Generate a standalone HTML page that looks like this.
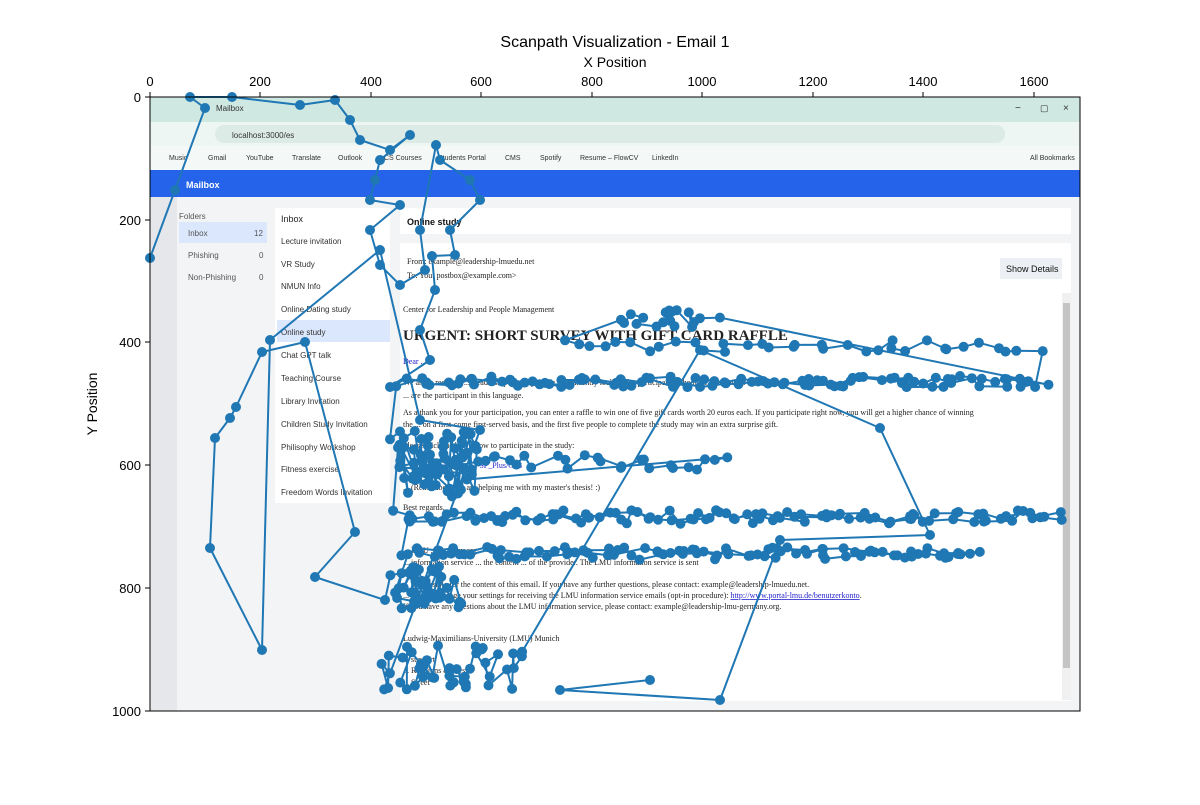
<!DOCTYPE html>
<html><head><meta charset="utf-8"><style>
body{margin:0;background:#fff;width:1200px;height:800px;overflow:hidden;font-family:"Liberation Sans",sans-serif}
</style></head><body>
<svg id="s" width="1200" height="800" viewBox="0 0 1200 800" xmlns="http://www.w3.org/2000/svg" font-family="Liberation Sans, sans-serif">
<rect width="1200" height="800" fill="#fff"/>
<text x="615" y="47" font-size="16" text-anchor="middle">Scanpath Visualization - Email 1</text>
<text x="615" y="67" font-size="14" text-anchor="middle">X Position</text>
<text x="97" y="404" font-size="14" text-anchor="middle" transform="rotate(-90 97 404)">Y Position</text>
<rect x="150" y="97" width="930" height="614" fill="#f3f4f6"/>
<rect x="150" y="97" width="930" height="25" fill="#cfe8e2"/>
<rect x="150" y="122" width="930" height="24" fill="#eef6f3"/>
<rect x="215" y="125" width="790" height="18" rx="9" fill="#dcebe6"/>
<rect x="150" y="146" width="930" height="24" fill="#f4f8f7"/>
<text x="216" y="111" font-size="8" fill="#333">Mailbox</text>
<text x="232" y="138" font-size="8" fill="#333">localhost:3000/es</text>
<g font-size="7" fill="#333"><text x="169" y="160">Music</text><text x="208" y="160">Gmail</text><text x="246" y="160">YouTube</text><text x="292" y="160">Translate</text><text x="338" y="160">Outlook</text><text x="384" y="160">CS Courses</text><text x="438" y="160">Students Portal</text><text x="505" y="160">CMS</text><text x="540" y="160">Spotify</text><text x="580" y="160">Resume – FlowCV</text><text x="652" y="160">LinkedIn</text><text x="1030" y="160">All Bookmarks</text></g>
<text x="1015" y="111" font-size="10" fill="#333">−</text><text x="1040" y="111" font-size="9" fill="#333">▢</text><text x="1063" y="111" font-size="10" fill="#333">×</text>
<rect x="150" y="170" width="930" height="27" fill="#2563eb"/>
<text x="186" y="188" font-size="9" font-weight="bold" fill="#fff">Mailbox</text>
<rect x="150" y="197" width="27" height="514" fill="#e5e7eb"/>
<rect x="177" y="197" width="98" height="514" fill="#f3f4f6"/>
<text x="179" y="219" font-size="8" fill="#555">Folders</text>
<rect x="179" y="222" width="88" height="21" fill="#dbe7fd"/>
<g font-size="8" fill="#555"><text x="188" y="236">Inbox</text><text x="254" y="236">12</text><text x="188" y="258">Phishing</text><text x="259" y="258">0</text><text x="188" y="280">Non-Phishing</text><text x="259" y="280">0</text></g>
<rect x="275" y="208" width="115" height="295" fill="#fff"/>
<rect x="277" y="320" width="113" height="22" fill="#dbe7fd"/>
<text x="281" y="222" font-size="9" fill="#222">Inbox</text>
<g font-size="8" fill="#333"><text x="281" y="244">Lecture invitation</text><text x="281" y="267">VR Study</text><text x="281" y="289">NMUN Info</text><text x="281" y="312">Online Dating study</text><text x="281" y="335">Online study</text><text x="281" y="358">Chat GPT talk</text><text x="281" y="381">Teaching Course</text><text x="281" y="404">Library Invitation</text><text x="281" y="427">Children Study Invitation</text><text x="281" y="450">Philisophy Workshop</text><text x="281" y="472">Fitness exercise</text><text x="281" y="495">Freedom Words Invitation</text></g>
<rect x="400" y="208" width="671" height="26" fill="#fff"/>
<text x="407" y="225" font-size="9" font-weight="bold" fill="#111">Online study</text>
<rect x="400" y="243" width="671" height="458" fill="#fff"/>
<rect x="1000" y="258" width="62" height="21" fill="#eceff3"/>
<text x="1006" y="272" font-size="9" fill="#111">Show Details</text>
<rect x="1062" y="293" width="9" height="407" fill="#f0f0f0"/><rect x="1063" y="303" width="7" height="365" fill="#c4c4c4"/>
<g font-family="Liberation Serif, serif" font-size="8" fill="#222">
<text x="407" y="264">From: example@leadership-lmuedu.net</text><text x="407" y="278">To: You: postbox@example.com&gt;</text>
<text x="403" y="312">Center for Leadership and People Management</text>
<text x="403" y="340" font-size="15" font-weight="bold">URGENT: SHORT SURVEY WITH GIFT CARD RAFFLE</text>
<text x="403" y="364" fill="#22c">Dear ...</text>
<text x="403" y="385">We are ... research ... Leadership ... study ... We are currently looking for participants who have lived under</text>
<text x="403" y="398">... are the participant in this language.</text>
<text x="403" y="415">As a thank you for your participation, you can enter a raffle to win one of five gift cards worth 20 euros each. If you participate right now, you will get a higher chance of winning</text>
<text x="403" y="427">the ... on a first-come first-served basis, and the first five people to complete the study may win an extra surprise gift.</text>
<text x="403" y="448">Please click the link below to participate in the study:</text>
<text x="425" y="468" fill="#22c">https://...Team_PSP_Plus/G68</text>
<text x="403" y="490">... (Remember, you are helping me with my master's thesis! :)</text>
<text x="403" y="510">Best regards,</text>
<text x="403" y="553">... LMU ...germany.org</text>
<text x="403" y="565">... information service ... the content ... of the provider. The LMU information service is sent</text>
<text x="403" y="587">... responsible for the content of this email. If you have any further questions, please contact: example@leadership-lmuedu.net.</text>
<text x="403" y="598">... you can change your settings for receiving the LMU information service emails (opt-in procedure): <tspan fill="#22c" text-decoration="underline">http://www.portal-lmu.de/benutzerkonto</tspan>.</text>
<text x="403" y="609">If you have any questions about the LMU information service, please contact: example@leadership-lmu-germany.org.</text>
<text x="403" y="641">Ludwig-Maximilians-University (LMU) Munich</text>
<text x="403" y="662">... support</text><text x="403" y="673">... Relations &amp; Press</text><text x="403" y="685">... Street</text>
</g>
<g id="sp" stroke="#1f77b4" fill="#1f77b4"></g>
<rect x="150" y="97" width="930" height="614" fill="none" stroke="#000" stroke-width="1"/>
<g font-size="13" fill="#000" text-anchor="middle" stroke="#000">
<g stroke-width="1"><line x1="150" y1="97" x2="150" y2="92"/><line x1="260" y1="97" x2="260" y2="92"/><line x1="371" y1="97" x2="371" y2="92"/><line x1="481" y1="97" x2="481" y2="92"/><line x1="592" y1="97" x2="592" y2="92"/><line x1="702" y1="97" x2="702" y2="92"/><line x1="813" y1="97" x2="813" y2="92"/><line x1="923" y1="97" x2="923" y2="92"/><line x1="1034" y1="97" x2="1034" y2="92"/>
<line x1="150" y1="97" x2="145" y2="97"/><line x1="150" y1="220" x2="145" y2="220"/><line x1="150" y1="342" x2="145" y2="342"/><line x1="150" y1="465" x2="145" y2="465"/><line x1="150" y1="588" x2="145" y2="588"/><line x1="150" y1="711" x2="145" y2="711"/></g>
<g stroke="none"><text x="150" y="86">0</text><text x="260" y="86">200</text><text x="371" y="86">400</text><text x="481" y="86">600</text><text x="592" y="86">800</text><text x="702" y="86">1000</text><text x="813" y="86">1200</text><text x="923" y="86">1400</text><text x="1034" y="86">1600</text></g>
<g stroke="none" text-anchor="end"><text x="141" y="102">0</text><text x="141" y="225">200</text><text x="141" y="347">400</text><text x="141" y="470">600</text><text x="141" y="593">800</text><text x="141" y="716">1000</text></g>
</g>
</svg>
<script>
var s=7;function r(){s=(s*16807)%2147483647;return s/2147483647;}
var pts=[[150,258],[175,190],[205,108],[190,97],[232,97],[300,105],[335,100],[350,120],[360,140],[390,150],[410,135],[380,160],[375,180],[370,200],[400,205],[370,230],[380,265],[400,285],[425,270],[420,230],[436,145],[440,160],[470,180],[480,200],[450,230],[455,255],[432,256],[435,290],[420,330],[430,360]];
var path=pts.slice();
function sweep(x0,x1,y0,y1,n,dir){for(var i=0;i<n;i++){var t=i/(n-1);if(dir)t=1-t;var x=x0+t*(x1-x0)+(r()-.5)*20;var y=y0+r()*(y1-y0);path.push([x,y]);}}
sweep(400,1045,376,388,60,0);
sweep(560,1040,340,352,35,1);
sweep(625,710,310,328,18,0);
sweep(400,1045,377,387,45,1);
sweep(400,480,430,500,40,0);
sweep(400,720,455,470,35,0);
sweep(400,460,440,500,25,1);
sweep(400,1055,510,524,65,0);
sweep(400,1055,512,522,45,1);
sweep(400,980,547,560,60,0);
sweep(400,980,548,558,40,1);
sweep(400,440,565,610,25,0);
sweep(400,460,565,610,18,1);
[[385,600],[315,577],[355,532],[305,342],[262,352],[236,407],[230,418],[215,438],[210,548],[262,650],[270,340],[380,250],[420,420],[480,430]].forEach(function(p){path.push(p)});
sweep(385,515,645,690,45,0);
[[700,350],[880,428],[930,535],[780,540],[720,700],[560,690],[650,680]].forEach(function(p){path.push(p)});
var g=document.getElementById('sp'),h='<polyline fill="none" stroke-width="2" stroke-linejoin="round" points="'+path.map(function(p){return p[0].toFixed(1)+','+p[1].toFixed(1)}).join(' ')+'"/>';
path.forEach(function(p){h+='<circle stroke="none" cx="'+p[0].toFixed(1)+'" cy="'+p[1].toFixed(1)+'" r="5"/>';});
g.innerHTML=h;
</script>
</body></html>
